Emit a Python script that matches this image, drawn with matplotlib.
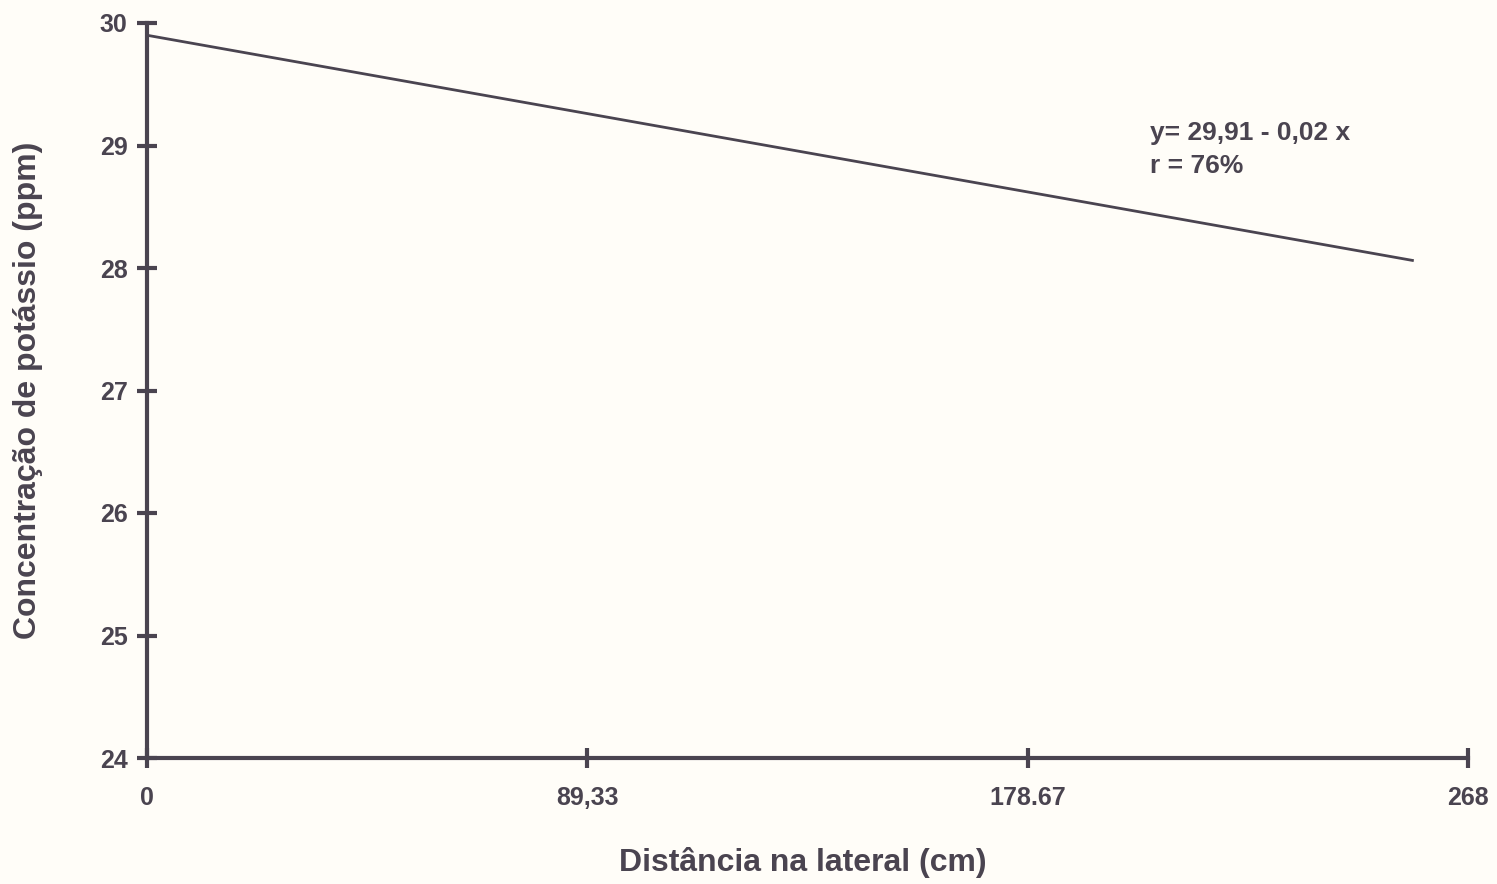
import matplotlib
matplotlib.use("Agg")
import matplotlib.pyplot as plt

# fitted line as drawn in the figure (endpoints)
distancia = [0, 257]
potassio = [29.90, 28.06]

x_ticks = [0, 89.33, 178.67, 268]
x_tick_labels = ["0", "89,33", "178.67", "268"]
y_ticks = [24, 25, 26, 27, 28, 29, 30]

ink = "#4a4450"
paper = "#fffdf8"

plt.rcParams["font.family"] = ["Liberation Sans", "DejaVu Sans"]
plt.rcParams["font.weight"] = "bold"

fig = plt.figure(figsize=(14.97, 8.84), dpi=100, facecolor=paper)
ax = fig.add_axes([147 / 1497, 1 - 758 / 884, 1321 / 1497, 735 / 884])
ax.set_facecolor(paper)

ax.plot(distancia, potassio, color=ink, linewidth=2.0, solid_capstyle="butt")

ax.set_xlim(0, 268)
ax.set_ylim(24, 30)
ax.set_xticks(x_ticks)
ax.set_xticklabels(x_tick_labels)
ax.set_yticks(y_ticks)

for side in ["top", "right"]:
    ax.spines[side].set_visible(False)
for side in ["left", "bottom"]:
    ax.spines[side].set_color(ink)
    ax.spines[side].set_linewidth(3)

ax.tick_params(axis="both", direction="inout", length=14, width=3, color=ink,
               labelcolor=ink, labelsize=18)
ax.tick_params(axis="y", pad=7)
ax.tick_params(axis="x", pad=13)
for lab in ax.get_xticklabels() + ax.get_yticklabels():
    lab.set_fontweight("bold")

ax.text(203.5, 29.20, "y= 29,91 - 0,02 x\nr = 76%", color=ink, fontsize=19,
        fontweight="bold", va="top", ha="left", linespacing=1.45)

fig.text(803 / 1497, 1 - 862 / 884, "Distância na lateral (cm)", color=ink,
         fontsize=23, fontweight="bold", ha="center", va="center")
fig.text(28 / 1497, 1 - 390 / 884, "Concentração de potássio (ppm)", color=ink,
         fontsize=23, fontweight="bold", ha="center", va="center", rotation=90)

fig.savefig("out.png", dpi=100, facecolor=paper)
